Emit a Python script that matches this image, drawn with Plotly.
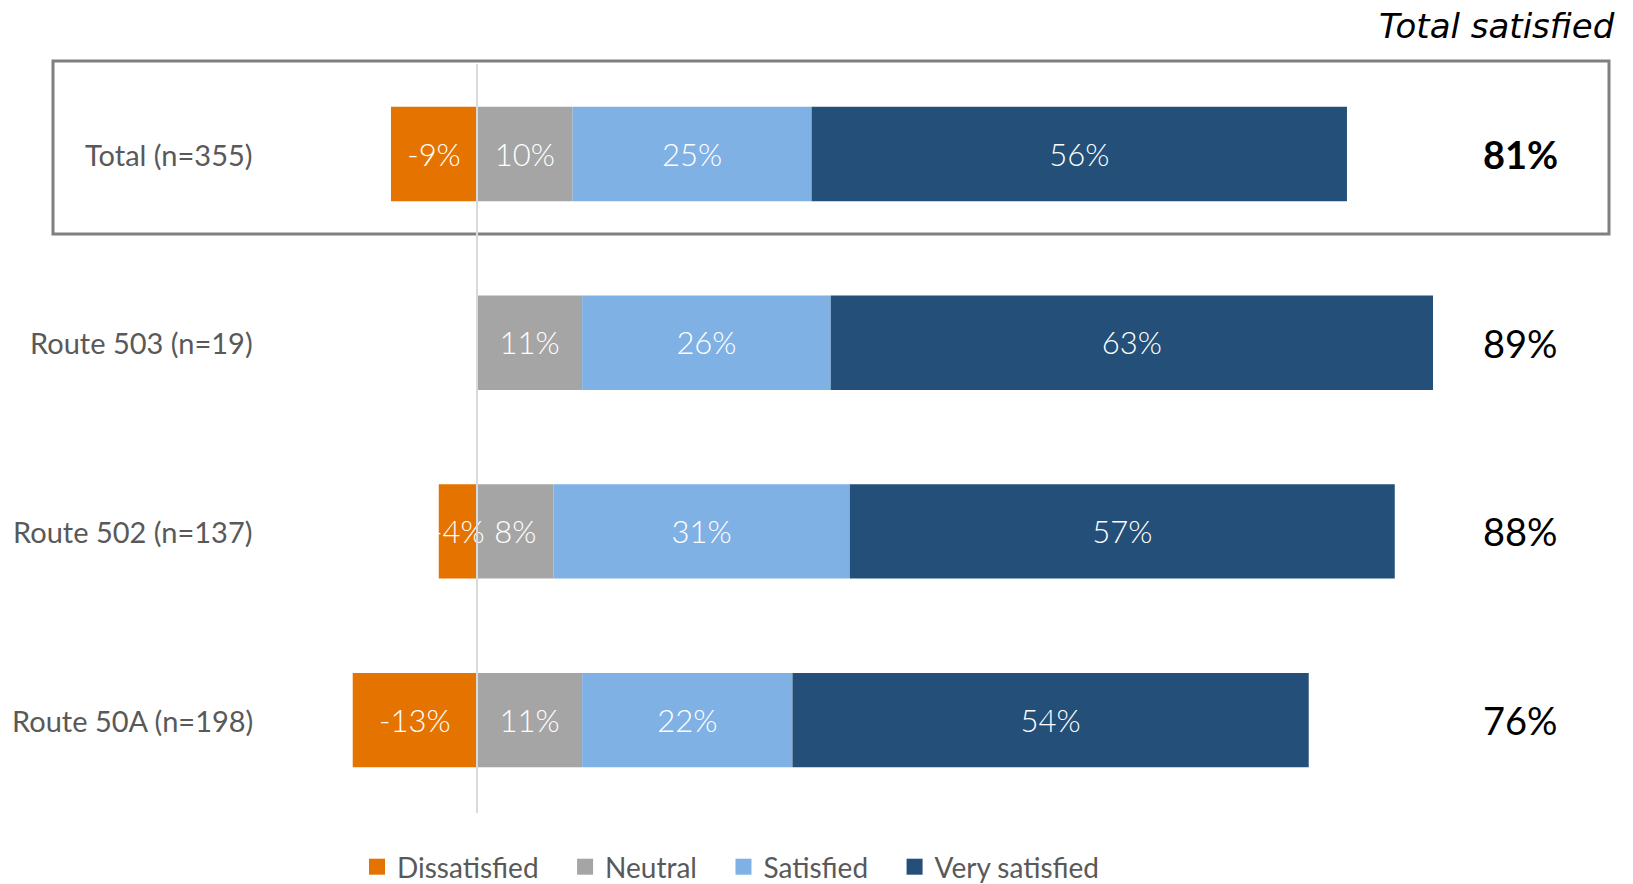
import plotly.graph_objects as go

categories = ["Total (n=355)", "Route 503 (n=19)", "Route 502 (n=137)", "Route 50A (n=198)"]
dissatisfied = [-9, 0, -4, -13]
neutral = [10, 11, 8, 11]
satisfied = [25, 26, 31, 22]
very_satisfied = [56, 63, 57, 54]
total_satisfied = [81, 89, 88, 76]

series_names = ["Dissatisfied", "Neutral", "Satisfied", "Very satisfied"]
legend_pad = [3, 3, 3, 0]
colors = ["#E57300", "#A5A5A5", "#7FB1E4", "#234F78"]

W, H = 1633, 884
OFF = 8  # page body margin
zero_px = 477 - OFF
px_per = 9.56
x_range = [-zero_px / px_per, (W - zero_px) / px_per]
y0_px, y_step = 154 - OFF, 188.7
y_range = [(H - y0_px) / y_step, -y0_px / y_step]
label_dy = 4 / y_step  # small downward nudge for in-bar labels

ypos = list(range(len(categories)))
fig = go.Figure()

fig.add_trace(go.Bar(y=ypos, x=dissatisfied, base=[0] * len(ypos), orientation="h",
                     marker=dict(color=colors[0], line=dict(width=0)), width=0.5,
                     showlegend=False, hoverinfo="skip"))
base = [0] * len(ypos)
for vals, col in zip([neutral, satisfied, very_satisfied], colors[1:]):
    fig.add_trace(go.Bar(y=ypos, x=vals, base=list(base), orientation="h",
                         marker=dict(color=col, line=dict(width=0)), width=0.5,
                         showlegend=False, hoverinfo="skip"))
    base = [b + v for b, v in zip(base, vals)]

lx, ly, lt = [], [], []
for i in ypos:
    if dissatisfied[i] != 0:
        lx.append(dissatisfied[i] / 2); ly.append(i + label_dy); lt.append(f"{dissatisfied[i]}%")
    b = 0
    for vals in [neutral, satisfied, very_satisfied]:
        lx.append(b + vals[i] / 2); ly.append(i + label_dy); lt.append(f"{vals[i]}%")
        b += vals[i]
fig.add_trace(go.Scatter(x=lx, y=ly, text=lt, mode="text",
                         textfont=dict(family="Lato", size=31, color="white", weight=300),
                         showlegend=False, hoverinfo="skip", cliponaxis=False))

for name, col, pad in zip(series_names, colors, legend_pad):
    fig.add_trace(go.Scatter(x=[None], y=[None], mode="markers", name=name + "\u00a0" * pad,
                             marker=dict(symbol="square", size=17, color=col)))

annotations = []
for i, c in enumerate(categories):
    annotations.append(dict(x=(255 - OFF) / W, xref="paper", y=i, yref="y", text=c, showarrow=False,
                            xanchor="right", yanchor="middle",
                            font=dict(family="Lato", size=29, color="#595959")))
for i, v in enumerate(total_satisfied):
    annotations.append(dict(x=(1520 - OFF) / W, xref="paper", y=i, yref="y",
                            text=f"<b>{v}%</b>" if i == 0 else f"{v}%",
                            showarrow=False, xanchor="center", yanchor="middle",
                            font=dict(family="Lato", size=38, color="black")))
annotations.append(dict(x=(1617 - OFF) / W, xref="paper", y=1 - (26 - OFF) / H, yref="paper",
                        text="<i>Total satisfied</i>",
                        showarrow=False, xanchor="right", yanchor="middle",
                        font=dict(family="DejaVu Sans", size=34, color="black")))

shapes = [
    dict(type="line", xref="x", yref="paper", x0=0, x1=0, y0=1 - (813 - OFF) / H, y1=1 - (64 - OFF) / H,
         line=dict(color="#D9D9D9", width=2), layer="above"),
    dict(type="rect", xref="paper", yref="paper", x0=(53 - OFF) / W, x1=(1609 - OFF) / W,
         y0=1 - (234 - OFF) / H, y1=1 - (61 - OFF) / H,
         line=dict(color="#808080", width=3), layer="below"),
]

fig.update_layout(
    width=W, height=H, barmode="overlay",
    margin=dict(l=0, r=0, t=0, b=0, autoexpand=False),
    paper_bgcolor="white", plot_bgcolor="white",
    xaxis=dict(range=x_range, visible=False, fixedrange=True),
    yaxis=dict(range=y_range, visible=False, fixedrange=True),
    annotations=annotations, shapes=shapes,
    legend=dict(orientation="h", x=(731 - OFF) / W, xanchor="center", y=1 - 859 / H, yanchor="middle",
                font=dict(family="Lato", size=28, color="#595959"), bgcolor="rgba(0,0,0,0)",
                itemwidth=30, tracegroupgap=0),
    showlegend=True,
)

fig.write_html("out.html")
